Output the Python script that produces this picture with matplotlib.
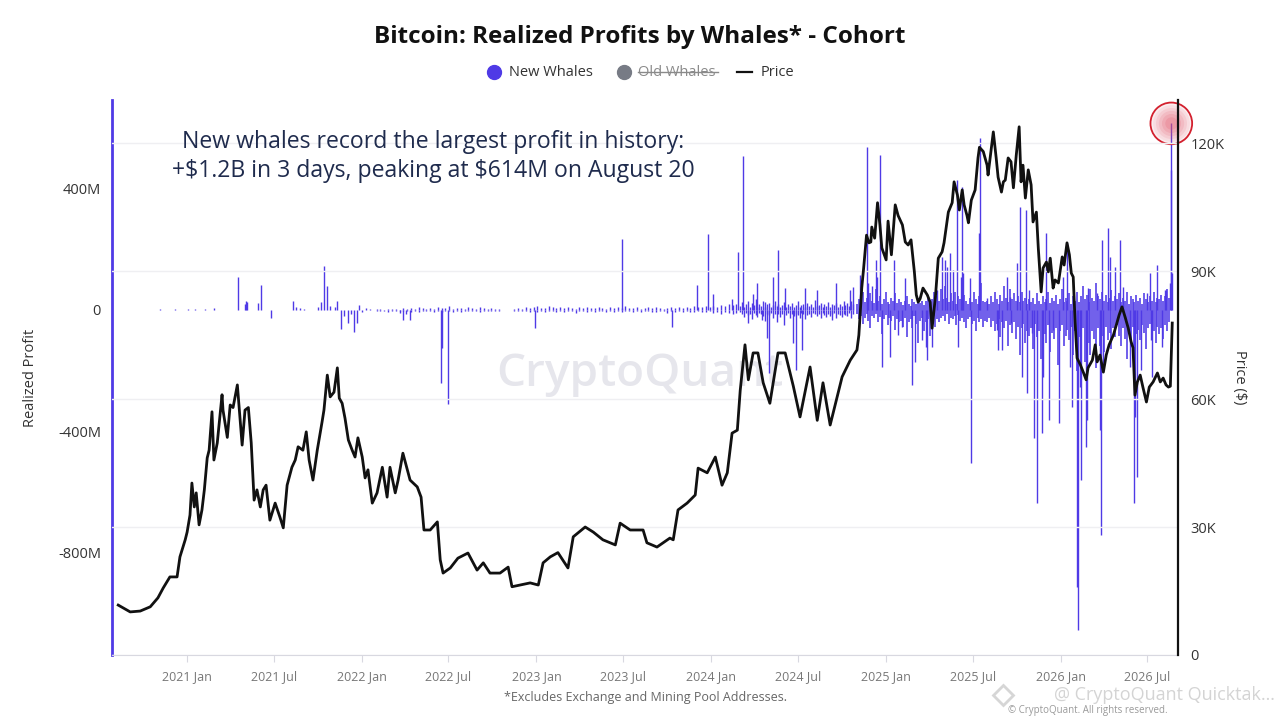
import numpy as np
import pandas as pd
import matplotlib
matplotlib.use("Agg")
import matplotlib.pyplot as plt
from matplotlib.lines import Line2D

plt.rcParams['font.family'] = ['Open Sans', 'DejaVu Sans']
plt.rcParams['text.parse_math'] = False

PURPLE = "#4f3ae6"

# BTC price in $K
price_dates = [
    "2020-08-10", "2020-09-04", "2020-09-25", "2020-10-16", "2020-11-01", "2020-11-12", "2020-11-26",
    "2020-12-11", "2020-12-17", "2020-12-28",
    "2021-01-01", "2021-01-07", "2021-01-11", "2021-01-16", "2021-01-20", "2021-01-26", "2021-02-01",
    "2021-02-06", "2021-02-12", "2021-02-16", "2021-02-22", "2021-02-26", "2021-03-05", "2021-03-15",
    "2021-03-17", "2021-03-26", "2021-04-01", "2021-04-07", "2021-04-16", "2021-04-26", "2021-05-02",
    "2021-05-09", "2021-05-15", "2021-05-21", "2021-05-27", "2021-06-03", "2021-06-09", "2021-06-15",
    "2021-06-23", "2021-07-04", "2021-07-14", "2021-07-21", "2021-07-29", "2021-08-08", "2021-08-15",
    "2021-08-21", "2021-08-31", "2021-09-07", "2021-09-13", "2021-09-21", "2021-09-30", "2021-10-10",
    "2021-10-14", "2021-10-21", "2021-10-27", "2021-11-04", "2021-11-11", "2021-11-15", "2021-11-21",
    "2021-11-27", "2021-12-04", "2021-12-12", "2021-12-18", "2021-12-24", "2022-01-02", "2022-01-08",
    "2022-01-14", "2022-01-23", "2022-02-02", "2022-02-13", "2022-02-23",
    "2022-03-01", "2022-03-12", "2022-03-18", "2022-03-28", "2022-04-12", "2022-04-27", "2022-05-05",
    "2022-05-11", "2022-05-24", "2022-06-08", "2022-06-14", "2022-06-20", "2022-07-05", "2022-07-21",
    "2022-08-11", "2022-08-30", "2022-09-12", "2022-09-26", "2022-10-17", "2022-11-03", "2022-11-11",
    "2022-11-28", "2022-12-19", "2023-01-05", "2023-01-15", "2023-01-30", "2023-02-15", "2023-03-08",
    "2023-03-19", "2023-04-13", "2023-04-30", "2023-05-20", "2023-06-15", "2023-06-25", "2023-07-16",
    "2023-08-12", "2023-08-20", "2023-09-10", "2023-10-07", "2023-10-14", "2023-10-24", "2023-11-12",
    "2023-11-29", "2023-12-05", "2023-12-24", "2024-01-10", "2024-01-24", "2024-02-04", "2024-02-14",
    "2024-02-25", "2024-03-02", "2024-03-12", "2024-03-19", "2024-03-29", "2024-04-08", "2024-04-19",
    "2024-05-03", "2024-05-20", "2024-06-04", "2024-06-21", "2024-07-05", "2024-07-26", "2024-08-10",
    "2024-08-22", "2024-09-06", "2024-10-01", "2024-10-18", "2024-11-01",
    "2024-11-05", "2024-11-11", "2024-11-15", "2024-11-21", "2024-11-26", "2024-11-30", "2024-12-02",
    "2024-12-08", "2024-12-14", "2024-12-19", "2024-12-23", "2025-01-01", "2025-01-05", "2025-01-12",
    "2025-01-20", "2025-01-26", "2025-02-04", "2025-02-10", "2025-02-16", "2025-02-22", "2025-03-01",
    "2025-03-05", "2025-03-09", "2025-03-13", "2025-03-19", "2025-03-28", "2025-04-03", "2025-04-07",
    "2025-04-14", "2025-04-20", "2025-04-28", "2025-05-02", "2025-05-11", "2025-05-19", "2025-05-23",
    "2025-05-30", "2025-06-03", "2025-06-09", "2025-06-13", "2025-06-19", "2025-06-22", "2025-06-28",
    "2025-07-06", "2025-07-12", "2025-07-15", "2025-07-23", "2025-07-31", "2025-08-02", "2025-08-09",
    "2025-08-13", "2025-08-19", "2025-08-23", "2025-08-30", "2025-09-03", "2025-09-07", "2025-09-13",
    "2025-09-19", "2025-09-24", "2025-09-30", "2025-10-06", "2025-10-10", "2025-10-14", "2025-10-19",
    "2025-10-25", "2025-10-31", "2025-11-04", "2025-11-11", "2025-11-15", "2025-11-21", "2025-11-25",
    "2025-12-02", "2025-12-06", "2025-12-10", "2025-12-16", "2025-12-20", "2025-12-27", "2026-01-04",
    "2026-01-08", "2026-01-14", "2026-01-19", "2026-01-23", "2026-01-27", "2026-01-31", "2026-02-04",
    "2026-02-11", "2026-02-17", "2026-02-23", "2026-02-27", "2026-03-08", "2026-03-14", "2026-03-18",
    "2026-03-24", "2026-03-31", "2026-04-06", "2026-04-12", "2026-04-21", "2026-04-27", "2026-05-03",
    "2026-05-09", "2026-05-16", "2026-05-22", "2026-05-28", "2026-06-01", "2026-06-05", "2026-06-10",
    "2026-06-16", "2026-06-22", "2026-06-29", "2026-07-05", "2026-07-13", "2026-07-22", "2026-07-28",
    "2026-08-03", "2026-08-09", "2026-08-14", "2026-08-18", "2026-08-22",
]
price_vals = [
    11.7, 10.1, 10.3, 11.3, 13.4, 15.7, 18.3,
    18.3, 23.0, 27.0,
    28.8, 32.8, 40.3, 34.7, 38.0, 30.5, 34.0,
    38.7, 46.2, 48.0, 57.0, 45.7, 49.7, 61.0,
    57.4, 51.0, 58.6, 58.0, 63.3, 49.2, 57.4,
    58.0, 49.7, 36.3, 38.7, 34.7, 38.7, 39.8,
    31.6, 35.6, 32.3, 29.8, 39.8, 44.0, 45.7,
    48.8, 48.0, 52.3, 45.7, 41.0, 48.0, 54.6,
    57.4, 65.6, 60.5, 61.6, 67.3, 60.2, 59.0,
    55.5, 50.4, 48.0, 46.4, 50.9, 46.4, 41.5,
    43.4, 35.6, 38.0, 44.0, 37.0,
    44.0, 38.0, 41.0, 47.3, 41.0, 39.4, 37.0,
    29.3, 29.3, 31.2, 22.3, 19.2, 20.4, 22.7,
    23.9, 19.9, 21.6, 19.2, 19.2, 20.6, 16.0,
    16.4, 16.9, 16.4, 21.6, 23.0, 24.0, 20.4,
    27.7, 30.0, 28.8, 27.0, 25.8, 30.9, 29.3,
    29.3, 26.3, 25.3, 27.4, 27.0, 34.0, 35.6,
    37.5, 43.8, 42.7, 46.4, 39.8, 42.7, 52.0,
    52.7, 62.0, 72.7, 64.5, 70.8, 70.8, 63.8,
    59.0, 70.8, 70.8, 63.0, 55.8, 67.5, 55.0,
    63.8, 53.9, 65.2, 69.1, 71.5,
    75.0, 86.0, 90.7, 98.4, 96.6, 96.8, 100.3,
    97.7, 106.0, 100.8, 95.4, 92.6, 101.7, 93.8,
    105.5, 103.0, 100.8, 96.8, 96.1, 97.3, 89.8,
    84.4, 82.7, 83.5, 86.0, 84.4, 82.7, 76.6,
    83.9, 93.0, 94.5, 96.6, 103.8, 106.0, 110.9,
    107.8, 104.3, 109.0, 105.5, 103.0, 101.3, 106.6,
    109.0, 116.5, 119.0, 118.0, 114.8, 112.5, 118.8,
    122.6, 116.5, 112.0, 108.5, 110.9, 111.3, 116.5,
    115.6, 109.5, 117.2, 123.8, 110.9, 114.8, 107.1,
    113.7, 110.2, 101.5, 103.8, 95.4, 85.1, 90.7,
    92.1, 89.8, 93.0, 86.0, 87.9, 87.2, 93.3,
    91.4, 96.6, 93.8, 89.5, 88.6, 78.0, 69.6,
    68.0, 66.3, 64.5, 67.3, 69.1, 72.7, 68.7,
    70.3, 66.3, 70.3, 72.7, 75.0, 77.3, 79.7,
    81.6, 79.0, 76.6, 73.4, 72.0, 60.9, 64.0,
    65.6, 62.6, 59.3, 62.8, 64.0, 66.1, 64.0,
    64.9, 63.3, 62.8, 63.0, 77.8,
]

# the larger realized profit bars, $M
spike_dates = [
    "2020-11-06", "2020-12-07", "2021-01-03", "2021-01-18", "2021-02-08", "2021-02-26", "2021-04-18",
    "2021-05-02", "2021-05-04", "2021-05-06", "2021-05-29", "2021-06-05", "2021-06-26", "2021-08-11",
    "2021-08-17", "2021-08-25", "2021-09-03", "2021-10-02", "2021-10-08", "2021-10-14", "2021-10-21",
    "2021-10-27", "2021-11-07", "2021-11-11", "2021-11-19", "2021-11-25", "2021-12-04", "2021-12-10",
    "2021-12-16", "2021-12-22", "2021-12-27", "2022-01-02", "2022-01-10", "2022-01-19", "2022-03-22",
    "2022-03-28", "2022-04-03", "2022-04-12", "2022-06-16", "2022-06-18", "2022-07-01", "2022-12-29",
    "2023-06-29", "2023-10-12", "2023-12-03", "2023-12-26", "2024-01-05", "2024-02-14", "2024-02-27",
    "2024-03-08", "2024-03-19", "2024-03-29", "2024-04-06", "2024-04-17", "2024-04-23", "2024-04-27",
    "2024-05-01", "2024-05-10", "2024-05-20", "2024-06-04", "2024-06-21", "2024-06-27", "2024-07-09",
    "2024-07-16", "2024-08-10", "2024-09-10", "2024-09-18", "2024-10-18", "2024-10-24", "2024-11-08",
    "2024-11-22", "2024-11-24", "2024-12-03", "2024-12-11", "2024-12-13", "2024-12-19", "2024-12-24",
    "2025-01-09", "2025-01-18", "2025-01-26", "2025-02-03", "2025-02-10", "2025-02-24", "2025-03-03",
    "2025-03-17", "2025-03-26", "2025-03-28", "2025-04-07", "2025-04-18", "2025-04-28", "2025-05-04",
    "2025-05-08", "2025-05-15", "2025-05-21", "2025-05-29", "2025-05-31", "2025-06-07", "2025-06-09",
    "2025-06-11", "2025-06-26", "2025-06-28", "2025-07-14", "2025-07-16", "2025-07-31", "2025-08-21",
    "2025-08-23", "2025-08-31", "2025-09-11", "2025-09-17", "2025-09-19", "2025-10-02", "2025-10-08",
    "2025-10-12", "2025-10-21", "2025-10-23", "2025-10-27", "2025-11-02", "2025-11-06", "2025-11-13",
    "2025-11-23", "2025-11-25", "2025-12-02", "2025-12-08", "2025-12-16", "2025-12-29", "2026-01-06",
    "2026-01-14", "2026-01-21", "2026-01-25", "2026-02-04", "2026-02-06", "2026-02-11", "2026-02-13",
    "2026-02-23", "2026-02-25", "2026-02-26", "2026-03-18", "2026-03-24", "2026-03-26", "2026-03-28",
    "2026-03-31", "2026-04-10", "2026-04-14", "2026-04-25", "2026-05-05", "2026-05-11", "2026-05-26",
    "2026-06-03", "2026-06-05", "2026-06-10", "2026-06-18", "2026-07-01", "2026-07-07", "2026-07-08",
    "2026-07-11", "2026-07-21", "2026-08-01", "2026-08-07", "2026-08-09", "2026-08-18", "2026-08-19",
    "2026-08-20", "2026-08-21",
]
spike_vals = [
    3, 3, 4, 2, 3, 5, 109,
    18, 30, 25, 23, 82, -26, 30,
    8, 5, 3, 8, 26, 145, 79,
    12, 10, 30, -63, -20, -43, -15,
    -72, -43, 16, -8, 5, 3, -10,
    -33, -12, -33, -240, -125, -309, -59,
    234, -56, 82, 250, 53, 36, 191,
    507, -43, 53, 89, -33, 26, -92,
    -207, 109, 198, 72, -109, -198, -132,
    72, 66, -33, 89, 66, 76, 115,
    537, 89, 80, 165, 109, 510, -188,
    -155, 165, -82, -56, 105, -247, -171,
    -99, -122, -165, -122, 66, 175, 165,
    141, 188, 132, 428, -122, 109, 405,
    122, 105, -504, 253, 566, 40, -66,
    -132, -132, 109, 43, -43, 155, 340,
    -221, 329, -273, 66, -76, -421, -635,
    -405, -221, 253, -362, -66, -372, 109,
    220, -188, -319, -912, -1053, -253, -560,
    -451, -362, 72, 56, -395, -741, 230,
    -188, 270, 175, 141, 230, 76, -188,
    -635, -352, -550, -198, 56, 122, -99,
    -221, 148, -122, 66, 66, 89, 460,
    614, 122,
]

# background bars ($M), one value every few days in each period
quiet_start, quiet_step = "2022-02-01", 8
quiet_pos = [3, 2, 0, 4, 2, 3, 0, 5, 3, 6, 4, 8, 5, 3, 7, 4, 9, 5, 6, 12, 4, 7, 5, 3, 8, 6, 4, 10, 5, 3,
             6, 4, 2, 0, 0, 0, 2, 5, 4, 8, 6, 9, 12, 7, 5, 14, 8, 6, 10, 5, 9, 7, 4, 11, 6, 8, 5, 7, 10, 6,
             4, 9, 5, 8, 6, 12, 7, 5, 9, 4, 6, 8, 5, 10, 6, 4, 7, 9, 5, 8, 6, 11, 7, 13, 8, 10, 12, 9, 14, 10,
             16, 12, 18, 15, 20]
quiet_neg = [-2, -4, -3, -6, -2, -5, -3, -4, -2, -6, -3, -8, -4, -5, -3, -7, -4, -6, -3, -5, -8, -4, -6, -3,
             -5, -2, -4, -6, -3, -2, -4, -3, -2, 0, 0, 0, -2, -4, -3, -5, -7, -4, -6, -3, -8, -5, -4, -7,
             -3, -6, -5, -4, -9, -3, -5, -7, -4, -6, -3, -5, -8, -4, -6, -3, -7, -5, -4, -6, -3, -8, -5, -4,
             -6, -7, -3, -5, -9, -4, -6, -5, -7, -4, -8, -6, -5, -7, -6, -4, -9, -6, -12, -8, -10, -14, -9]

etf_start, etf_step = "2024-03-02", 4
etf_pos = [12, 25, 8, 18, 30, 10, 22, 15, 35, 9, 20, 14, 28, 11, 18, 24, 8, 16, 30, 12, 20, 9, 15, 26, 10,
           18, 13, 22, 8, 17, 28, 11, 15, 20, 9, 24, 14, 18, 10, 32, 12, 16, 22, 9, 19, 14, 26, 11, 18, 15,
           24, 10, 20, 13, 30, 16, 22, 12, 28, 18]
etf_neg = [-8, -15, -22, -10, -18, -12, -30, -9, -16, -24, -11, -14, -20, -35, -12, -18, -9, -26, -15, -40,
           -12, -22, -14, -50, -18, -10, -28, -15, -20, -12, -16, -25, -10, -14, -30, -18, -12, -22, -9, -15,
           -20, -13, -28, -11, -17, -24, -12, -19, -15, -10, -26, -14, -18, -22, -12, -16, -20, -11, -25, -15]

busy_start, busy_step = "2024-11-01", 4
busy_pos = [20, 35, 15, 60, 25, 40, 18, 55, 30, 22, 70, 28, 45, 20, 35, 60, 25, 18, 40, 30, 55, 22, 35,
            25, 15, 30, 45, 20, 12, 35, 25, 18, 40, 22, 30, 15, 28, 50, 20, 35, 60, 25, 45, 30, 70,
            35, 80, 40, 25, 55, 30, 60, 20, 45, 35, 25, 50, 30, 18, 40, 25, 60, 35, 20, 45, 90, 30, 25,
            30, 20, 45, 25, 60, 35, 20, 50, 30, 80, 40, 25, 70, 35, 55, 30, 45, 25, 60, 30, 40, 20, 35,
            25, 40, 20, 55, 30, 18, 45, 25, 35, 60, 22, 40, 30, 50, 20, 35, 70, 25, 40, 30, 55, 20, 45,
            30, 60, 25, 45, 80, 35, 50, 25, 70, 40, 30, 90, 45, 35, 60, 30, 50, 25, 40, 65, 30, 45,
            35, 55, 25, 40, 30, 60, 20, 45, 35, 25, 50, 30, 40, 20, 55, 35, 25, 45, 30, 60, 25, 40, 35, 50,
            30, 45, 70, 40]
busy_neg = [-15, -30, -20, -45, -25, -12, -35, -60, -20, -28, -15, -40, -22, -80, -30, -18, -50, -25, -35,
            -20, -65, -30, -40,
            -35, -55, -25, -90, -40, -30, -60, -20, -45, -110, -35, -25, -70, -40, -30, -85, -45, -20, -55,
            -30, -40, -25,
            -20, -35, -15, -45, -25, -30, -20, -50, -18, -35, -25, -40, -60, -30, -22, -45, -35, -70, -25,
            -40, -30, -55, -35,
            -40, -25, -55, -35, -70, -45, -30, -90, -40, -60, -35, -120, -50, -75, -40, -95, -55, -150, -60,
            -45, -110, -70, -85,
            -60, -130, -45, -90, -70, -160, -55, -80, -110, -50, -140, -75, -95, -60, -180, -70, -50, -120,
            -85, -65, -100, -55, -150,
            -70, -200, -90, -130, -60, -170, -80, -110, -150, -70, -95, -190, -60, -120, -85, -140, -55,
            -100, -75, -130, -60, -90,
            -50, -85, -120, -60, -95, -160, -70, -110, -55, -140, -80, -65, -100, -50, -75, -130, -60, -45,
            -90, -70, -110, -55, -80, -60, -95, -50, -70, -40]

left_ticks = [-800, -400, 0, 400]
left_labels = ["-800M", "-400M", "0", "400M"]
right_ticks = [0, 30, 60, 90, 120]
right_labels = ["0", "30K", "60K", "90K", "120K"]
peak_date, peak_val = "2026-08-20", 614


def steps(start, step, vals):
    d = pd.Timestamp(start) + pd.to_timedelta(np.arange(len(vals)) * step, unit="D")
    return d, np.array(vals)


fig = plt.figure(figsize=(12.8, 7.2), dpi=100)
ax = fig.add_axes([112 / 1280, 65 / 720, 1066 / 1280, 555 / 720])
ax2 = ax.twinx()

ax.text(0.495, 0.505, "CryptoQuant", transform=ax.transAxes, ha="center", va="center",
        fontsize=33, fontweight="semibold", color="#e6e6ec", zorder=0)

for start, step, vals, w in [(quiet_start, quiet_step, quiet_pos, 1.0), (quiet_start, quiet_step, quiet_neg, 1.0),
                             (etf_start, etf_step, etf_pos, 1.0), (etf_start, etf_step, etf_neg, 1.0),
                             (busy_start, busy_step, busy_pos, 1.15), (busy_start, busy_step, busy_neg, 1.15)]:
    d, v = steps(start, step, vals)
    ax.vlines(d, 0, v, color=PURPLE, lw=w, zorder=2)

ax.vlines(pd.to_datetime(spike_dates), 0, spike_vals, color=PURPLE, lw=1.0, zorder=3)

ax2.plot(pd.to_datetime(price_dates), price_vals, color="#111111", lw=2.0, zorder=4)

# red highlight on the record day
pk = pd.Timestamp(peak_date)
for s, a in zip([900, 700, 500, 330, 190, 80], [0.10, 0.10, 0.12, 0.14, 0.16, 0.2]):
    ax.scatter([pk], [peak_val], s=s, color="#e0566a", alpha=a, lw=0, zorder=5, clip_on=False)
ax.scatter([pk], [peak_val], s=900, facecolors="none", edgecolors="#d3202e", lw=1.3, zorder=6,
           clip_on=False)

ax.set_xlim(pd.Timestamp("2020-07-28"), pd.Timestamp("2026-09-03"))
ax.set_ylim(-1136, 691)
ax2.set_ylim(0, 130.08)

ax.set_yticks(left_ticks)
ax.set_yticklabels(left_labels)
ax2.set_yticks(right_ticks)
ax2.set_yticklabels(right_labels)

xt = [pd.Timestamp(f"{y}-{m:02d}-01") for y in range(2021, 2027) for m in (1, 7)]
ax.set_xticks(xt)
ax.set_xticklabels([t.strftime("%Y %b") for t in xt])

ax2.yaxis.grid(True, color="#efeff2", lw=1)
ax2.set_axisbelow(True)

for s in ["top", "right"]:
    ax.spines[s].set_visible(False)
for s in ["top", "left", "bottom"]:
    ax2.spines[s].set_visible(False)
ax.spines["left"].set_color(PURPLE)
ax.spines["left"].set_linewidth(2)
ax.spines["bottom"].set_color("#d8d8e0")
ax2.spines["right"].set_color("#111111")
ax2.spines["right"].set_linewidth(1.6)

ax.tick_params(axis="y", length=0, labelsize=10.5, labelcolor="#333333", pad=8)
ax2.tick_params(axis="y", length=0, labelsize=10.5, labelcolor="#333333", pad=9)
ax.tick_params(axis="x", length=5, color="#d8d8e0", labelsize=9, labelcolor="#777777", pad=6)

ax.set_ylabel("Realized Profit", fontsize=10.5, color="#333333")
ax.yaxis.set_label_coords(-0.069, 0.5)
ax2.set_ylabel("Price ($)", fontsize=10.5, color="#333333", rotation=270, va="center")
ax2.yaxis.set_label_coords(1.058, 0.5)

fig.text(0.5, 1 - 37 / 720, "Bitcoin: Realized Profits by Whales* - Cohort", ha="center", va="center",
         fontsize=17.5, fontweight="bold", color="#111111")

# legend row
ly = 1 - 72 / 720
fig.add_artist(Line2D([494 / 1280], [ly], marker="o", ms=10, color=PURPLE, lw=0, transform=fig.transFigure))
fig.text(509 / 1280, ly, "New Whales", ha="left", va="center", fontsize=10.5, color="#333333")
fig.add_artist(Line2D([624 / 1280], [ly], marker="o", ms=10, color="#777b85", lw=0, transform=fig.transFigure))
fig.text(638 / 1280, ly, "Old Whales", ha="left", va="center", fontsize=10.5, color="#8a8a8a")
fig.add_artist(Line2D([638 / 1280, 718 / 1280], [ly, ly], color="#8a8a8a", lw=1, transform=fig.transFigure))
fig.add_artist(Line2D([737 / 1280, 752 / 1280], [ly, ly], color="#111111", lw=1.6, transform=fig.transFigure))
fig.text(761 / 1280, ly, "Price", ha="left", va="center", fontsize=10.5, color="#333333")

fig.text(433 / 1280, 1 - 142 / 720, "New whales record the largest profit in history:", ha="center",
         va="center", fontsize=16.6, color="#1f2b4d")
fig.text(433 / 1280, 1 - 171 / 720, "+$1.2B in 3 days, peaking at $614M on August 20", ha="center",
         va="center", fontsize=16.6, color="#1f2b4d")

fig.text(645 / 1280, 1 - 697 / 720, "*Excludes Exchange and Mining Pool Addresses.", ha="center",
         va="center", fontsize=9, color="#666666")
fig.text(1088 / 1280, 1 - 711 / 720, "© CryptoQuant. All rights reserved.", ha="center", va="center",
         fontsize=7, color="#9a9a9a")
fig.add_artist(Line2D([1003 / 1280], [1 - 695 / 720], marker="D", ms=10, mfc="none", mec="#d6d6d6", mew=2,
                      lw=0, transform=fig.transFigure))
fig.text(1275 / 1280, 1 - 695 / 720, "@ CryptoQuant Quicktak…", ha="right", va="center", fontsize=13,
         color="#d4d4d4")

fig.savefig("out.png", dpi=100)
